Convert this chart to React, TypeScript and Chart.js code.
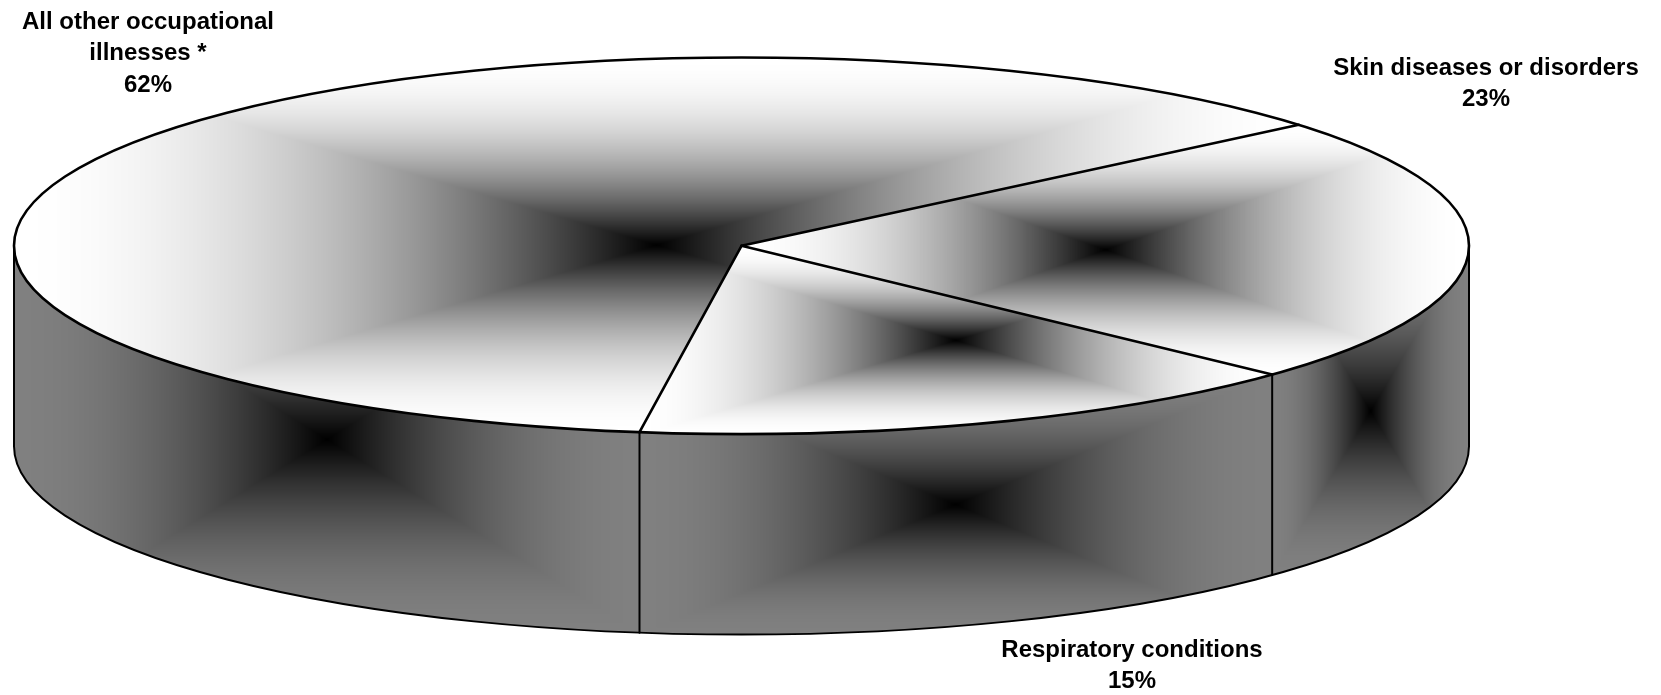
import React, { useEffect, useRef } from "react";
import { Chart, registerables } from "chart.js";

Chart.register(...registerables);

const categories = ["Skin diseases or disorders", "Respiratory conditions", "All other occupational illnesses *"];
const values = [23.1, 15.25, 61.65];
const labelLines = [
  ["Skin diseases or disorders", "23%"],
  ["Respiratory conditions", "15%"],
  ["All other occupational", "illnesses *", "62%"],
];
const labelCenters = [
  [1486, 68],
  [1132, 650],
  [148, 22],
];

const W = 1661;
const H = 695;
const EX = 741.5;
const EY = 245.8;
const RX = 727.5;
const RY = 188.3;
const DEPTH = 200.5;
const ROTATION = 50;

const norm = (a: number) => {
  const t = Math.PI * 2;
  return ((a % t) + t) % t;
};

function rectPattern(ctx: CanvasRenderingContext2D, x0: number, y0: number, x1: number, y1: number, edge: number) {
  const w = Math.max(1, Math.ceil(x1 - x0));
  const h = Math.max(1, Math.ceil(y1 - y0));
  const off = document.createElement("canvas");
  off.width = w;
  off.height = h;
  const o = off.getContext("2d")!;
  const img = o.createImageData(w, h);
  for (let j = 0; j < h; j++) {
    for (let i = 0; i < w; i++) {
      const t = Math.min(1, Math.max(Math.abs((i + 0.5) / w - 0.5), Math.abs((j + 0.5) / h - 0.5)) * 2);
      const g = Math.round(edge * (1 - Math.pow(1 - t, 1.9)));
      const k = (j * w + i) * 4;
      img.data[k] = g;
      img.data[k + 1] = g;
      img.data[k + 2] = g;
      img.data[k + 3] = 255;
    }
  }
  o.putImageData(img, 0, 0);
  return ctx.createPattern(off, "no-repeat")!;
}

const ex = (a: number) => EX + RX * Math.cos(a);
const ey = (a: number) => EY + RY * Math.sin(a);

function sweep(a0: number, a1: number) {
  const pts: number[][] = [];
  const n = 720;
  for (let i = 0; i <= n; i++) {
    const a = a0 + ((a1 - a0) * i) / n;
    pts.push([ex(a), ey(a)]);
  }
  return pts;
}

function wallRanges(start: number, end: number) {
  const out: number[][] = [];
  const t = Math.PI * 2;
  for (const shift of [-t, 0, t]) {
    const a0 = Math.max(start + shift, 0);
    const a1 = Math.min(end + shift, Math.PI);
    if (a1 > a0) out.push([a0, a1]);
  }
  return out;
}

const pie3d = {
  id: "pie3d",
  beforeDatasetsDraw(chart: any) {
    const ctx: CanvasRenderingContext2D = chart.ctx;
    const arcs = chart.getDatasetMeta(0).data;
    // side walls
    arcs.forEach((el: any) => {
      wallRanges(el.startAngle, el.endAngle).forEach(([a0, a1]) => {
        const pts = sweep(a0, a1);
        const xs = pts.map((p) => p[0]);
        const ys = pts.map((p) => p[1]);
        const x0 = Math.min(...xs);
        const x1 = Math.max(...xs);
        const y0 = Math.min(...ys);
        const y1 = Math.max(...ys) + DEPTH;
        const pat = rectPattern(ctx, x0, y0, x1, y1, 128);
        pat.setTransform(new DOMMatrix().translate(x0, y0));
        ctx.save();
        ctx.beginPath();
        ctx.ellipse(EX, EY, RX, RY, 0, a0, a1);
        ctx.ellipse(EX, EY + DEPTH, RX, RY, 0, a1, a0, true);
        ctx.closePath();
        ctx.fillStyle = pat;
        ctx.fill();
        ctx.restore();
      });
    });
    // squash the library's round pie into the tilted ellipse
    const first = arcs[0];
    const sx = RX / first.outerRadius;
    const sy = RY / first.outerRadius;
    ctx.save();
    ctx.transform(sx, 0, 0, sy, EX - first.x * sx, EY - first.y * sy);
    const ctm = ctx.getTransform();
    arcs.forEach((el: any) => {
      const pts = sweep(el.startAngle, el.endAngle);
      pts.push([EX, EY]);
      const xs = pts.map((p) => p[0]);
      const ys = pts.map((p) => p[1]);
      const x0 = Math.min(...xs);
      const x1 = Math.max(...xs);
      const y0 = Math.min(...ys);
      const y1 = Math.max(...ys);
      const pat = rectPattern(ctx, x0, y0, x1, y1, 255);
      pat.setTransform(ctm.inverse().translate(x0, y0));
      el.options = { ...el.options, backgroundColor: pat, borderWidth: 0 };
    });
  },
  afterDatasetsDraw(chart: any) {
    const ctx: CanvasRenderingContext2D = chart.ctx;
    ctx.restore();
    const arcs = chart.getDatasetMeta(0).data;
    ctx.save();
    ctx.strokeStyle = "#000";
    ctx.lineJoin = "round";
    ctx.lineCap = "round";
    // wall outline
    ctx.lineWidth = 2;
    ctx.beginPath();
    ctx.moveTo(EX - RX, EY);
    ctx.lineTo(EX - RX, EY + DEPTH);
    ctx.ellipse(EX, EY + DEPTH, RX, RY, 0, Math.PI, 0, true);
    ctx.lineTo(EX + RX, EY);
    ctx.stroke();
    arcs.forEach((el: any) => {
      const a = norm(el.startAngle);
      if (a > 0 && a < Math.PI) {
        ctx.beginPath();
        ctx.moveTo(ex(a), ey(a));
        ctx.lineTo(ex(a), ey(a) + DEPTH);
        ctx.stroke();
      }
    });
    // top face outline
    ctx.lineWidth = 2.6;
    ctx.beginPath();
    ctx.ellipse(EX, EY, RX, RY, 0, 0, Math.PI * 2);
    ctx.stroke();
    arcs.forEach((el: any) => {
      const a = el.startAngle;
      ctx.beginPath();
      ctx.moveTo(EX, EY);
      ctx.lineTo(ex(a), ey(a));
      ctx.stroke();
    });
    // labels
    ctx.fillStyle = "#000";
    ctx.font = 'bold 24px "Liberation Sans"';
    ctx.textAlign = "center";
    ctx.textBaseline = "middle";
    labelLines.forEach((lines, i) => {
      lines.forEach((t, j) => ctx.fillText(t, labelCenters[i][0], labelCenters[i][1] + j * 31.8));
    });
    ctx.restore();
  },
};

export default function App() {
  const ref = useRef<HTMLCanvasElement>(null);
  useEffect(() => {
    const chart = new Chart(ref.current!, {
      type: "pie",
      data: {
        labels: categories,
        datasets: [{ data: values, backgroundColor: ["#888", "#888", "#888"], borderWidth: 0 }],
      },
      options: {
        animation: false,
        responsive: false,
        rotation: ROTATION,
        layout: { padding: 40 },
        plugins: { legend: { display: false }, tooltip: { enabled: false } },
      },
      plugins: [pie3d],
    } as any);
    return () => chart.destroy();
  }, []);
  return (
    <div style={{ position: "fixed", left: 0, top: 0, width: W, height: H, background: "#fff" }}>
      <canvas ref={ref} width={W} height={H} style={{ display: "block", width: W, height: H }} />
    </div>
  );
}
